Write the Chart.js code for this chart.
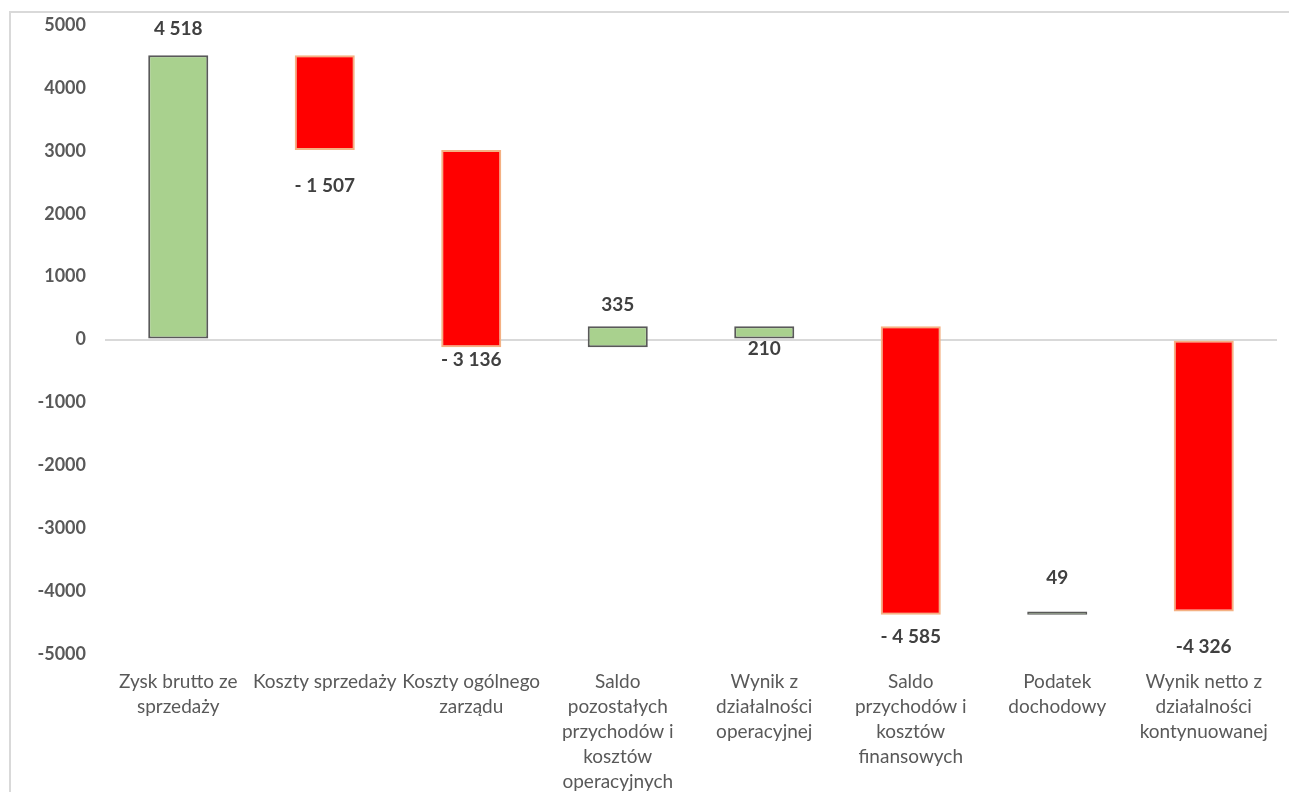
<!DOCTYPE html>
<html>
<head>
<meta charset="utf-8">
<script src="https://cdn.jsdelivr.net/npm/chart.js@4"></script>
<style>
  body { margin: 0; overflow: hidden; background: #fff; }
  #frame { position: absolute; left: 9px; top: 11px; width: 2000px; height: 2000px; border: 2px solid #d9d9d9; }
  #chart { position: absolute; left: 0; top: 0; }
</style>
</head>
<body>
<div id="frame"></div>
<canvas id="chart" width="1289" height="820"></canvas>
<script>
// Dane do wykresu kaskadowego
const kategorie = [
  ["Zysk brutto ze", "sprzedaży"],
  ["Koszty sprzedaży"],
  ["Koszty ogólnego", "zarządu"],
  ["Saldo", "pozostałych", "przychodów i", "kosztów", "operacyjnych"],
  ["Wynik z", "działalności", "operacyjnej"],
  ["Saldo", "przychodów i", "kosztów", "finansowych"],
  ["Podatek", "dochodowy"],
  ["Wynik netto z", "działalności", "kontynuowanej"],
];
const zmiany = [4518, -1507, -3136, 335, 210, -4585, 49, -4326];
const czySuma = [true, false, false, false, true, false, false, true];
const etykiety = ["4 518", "- 1 507", "- 3 136", "335", "210", "- 4 585", "49", "-4 326"];
const osY = [5000, 4000, 3000, 2000, 1000, 0, -1000, -2000, -3000, -4000, -5000];

// Zakresy słupków (początek, koniec)
let suma = 0;
const zakresy = zmiany.map((v, i) => {
  if (czySuma[i]) {
    suma = v;
    return [0, v];
  }
  const start = suma;
  suma += v;
  return [start, suma];
});

const FONT = "Lato, 'Liberation Sans', sans-serif";
const labelOffsets = [-26, 36, 13, -21, 10, 22, -34, 35];

const etykietyPlugin = {
  id: "etykiety",
  afterDatasetsDraw(chart) {
    const ctx = chart.ctx;
    const meta = chart.getDatasetMeta(0);
    ctx.save();
    ctx.font = "bold 19px " + FONT;
    ctx.fillStyle = "#404040";
    ctx.textAlign = "center";
    ctx.textBaseline = "middle";
    meta.data.forEach((bar, i) => {
      const top = Math.min(bar.y, bar.base);
      const bottom = Math.max(bar.y, bar.base);
      const off = labelOffsets[i];
      const y = off < 0 ? top + off : bottom + off;
      ctx.fillText(etykiety[i], bar.x, y);
    });
    ctx.restore();
  },
};

const zielony = "#a9d18e";
const czerwony = "#ff0000";

new Chart(document.getElementById("chart"), {
  type: "bar",
  data: {
    labels: kategorie,
    datasets: [
      {
        data: zakresy,
        backgroundColor: zmiany.map((v) => (v >= 0 ? zielony : czerwony)),
        borderColor: zmiany.map((v) => (v >= 0 ? "#595959" : "#f4b183")),
        borderWidth: zmiany.map((v) => (Math.abs(v) < 100 ? 1.5 : 2)),
        borderSkipped: false,
        barPercentage: 0.41,
        categoryPercentage: 1,
      },
    ],
  },
  options: {
    responsive: false,
    animation: false,
    layout: { padding: { top: 25, right: 12, left: 0, bottom: 0 } },
    plugins: { legend: { display: false }, tooltip: { enabled: false } },
    scales: {
      x: {
        grid: { display: false },
        border: { display: false },
        ticks: {
          color: "#595959",
          font: { family: FONT, size: 19, lineHeight: 25 / 19 },
          maxRotation: 0,
          autoSkip: false,
          padding: 7,
        },
        afterFit: (s) => { s.height = 166; },
      },
      y: {
        min: -5000,
        max: 5000,
        afterBuildTicks: (s) => { s.ticks = osY.map((v) => ({ value: v })); },
        grid: {
          color: (c) => (c.tick && c.tick.value === 0 ? "#d9d9d9" : "rgba(0,0,0,0)"),
          lineWidth: 2,
          drawTicks: true,
          tickLength: 19,
          tickColor: "rgba(0,0,0,0)",
        },
        border: { display: false },
        ticks: {
          color: "#595959",
          font: { family: FONT, size: 18, weight: "bold" },
          padding: 0,
          callback: (v) => String(v),
        },
        afterFit: (s) => { s.width = 105; },
      },
    },
  },
  plugins: [etykietyPlugin],
});
</script>
</body>
</html>
